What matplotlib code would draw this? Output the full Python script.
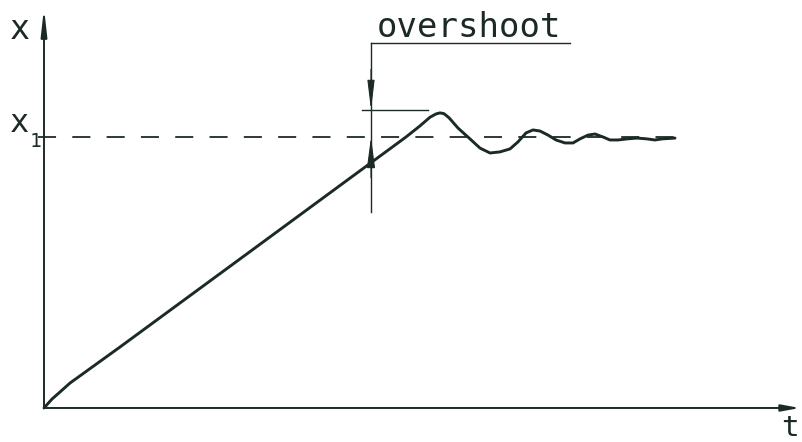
import numpy as np
import matplotlib.pyplot as plt

# step response (t in arbitrary units, x normalised to x1 = 1)
t = [0, 0.08, 0.16, 0.26, 0.76, 2.06, 3.62, 3.76, 3.86, 3.92, 3.96, 4.00, 4.05,
     4.14, 4.26, 4.36, 4.46, 4.56, 4.66, 4.74, 4.82, 4.89, 4.96, 5.04, 5.12,
     5.21, 5.29, 5.36, 5.44, 5.51, 5.59, 5.66, 5.74, 5.83, 5.93, 6.03, 6.11,
     6.18, 6.31]
x = [0, 0.033, 0.059, 0.092, 0.225, 0.577, 1.0, 1.041, 1.073, 1.085, 1.089,
     1.086, 1.071, 1.033, 0.993, 0.959, 0.941, 0.945, 0.956, 0.982, 1.015,
     1.026, 1.022, 1.007, 0.989, 0.978, 0.978, 0.993, 1.007, 1.011, 1.0,
     0.989, 0.989, 0.993, 0.996, 0.993, 0.989, 0.993, 0.996]

x1 = 1.0
t_overshoot = 3.27
peak_mark = 1.10

ink = "#1c2a26"
mono = "DejaVu Sans Mono"

fig = plt.figure(figsize=(8.03, 4.42), dpi=100)
ax = fig.add_axes([0, 0, 1, 1])
ax.set_xlim(-0.44, 7.59)
ax.set_ylim(-0.1255, 1.5055)
ax.axis("off")

# axes with arrow heads
ax.annotate("", xy=(0, 1.476), xytext=(0, 0),
            arrowprops=dict(arrowstyle="-|>,head_length=1.6,head_width=0.18",
                            color=ink, lw=1.4, shrinkA=0, shrinkB=0))
ax.annotate("", xy=(7.56, 0), xytext=(0, 0),
            arrowprops=dict(arrowstyle="-|>,head_length=1.1,head_width=0.2",
                            color=ink, lw=1.4, shrinkA=0, shrinkB=0))

# x1 reference level
ax.plot([-0.06, 6.31], [x1, x1], color=ink, lw=1.3, dashes=(10, 9))

# response curve
ax.plot(t, x, color=ink, lw=2.1, solid_joinstyle="round", solid_capstyle="round")

# overshoot annotation
ax.plot([t_overshoot, t_overshoot], [0.723, 1.347], color=ink, lw=1.0)
ax.plot([t_overshoot, 5.26], [1.347, 1.347], color=ink, lw=1.0)
ax.plot([3.18, 3.84], [peak_mark, peak_mark], color=ink, lw=1.0)
ax.annotate("", xy=(t_overshoot, peak_mark), xytext=(t_overshoot, 1.25),
            arrowprops=dict(arrowstyle="-|>,head_length=1.8,head_width=0.22",
                            color=ink, lw=0.8, shrinkA=0, shrinkB=0))
ax.annotate("", xy=(t_overshoot, x1), xytext=(t_overshoot, 0.85),
            arrowprops=dict(arrowstyle="-|>,head_length=1.9,head_width=0.25",
                            color=ink, lw=0.8, shrinkA=0, shrinkB=0))
ax.text(3.33, 1.369, "overshoot", family=mono, fontsize=24.5, color=ink,
        ha="left", va="baseline")

# labels
ax.text(-0.24, 1.395, "x", family=mono, fontsize=24, color=ink, ha="center", va="center")
ax.text(7.46, -0.075, "t", family=mono, fontsize=21, color=ink, ha="center", va="center")
ax.text(-0.25, 1.05, "x", family=mono, fontsize=23, color=ink, ha="center", va="center")
ax.text(-0.09, 0.985, "1", family=mono, fontsize=14, color=ink, ha="center", va="center")

fig.savefig("out.png", dpi=100)
